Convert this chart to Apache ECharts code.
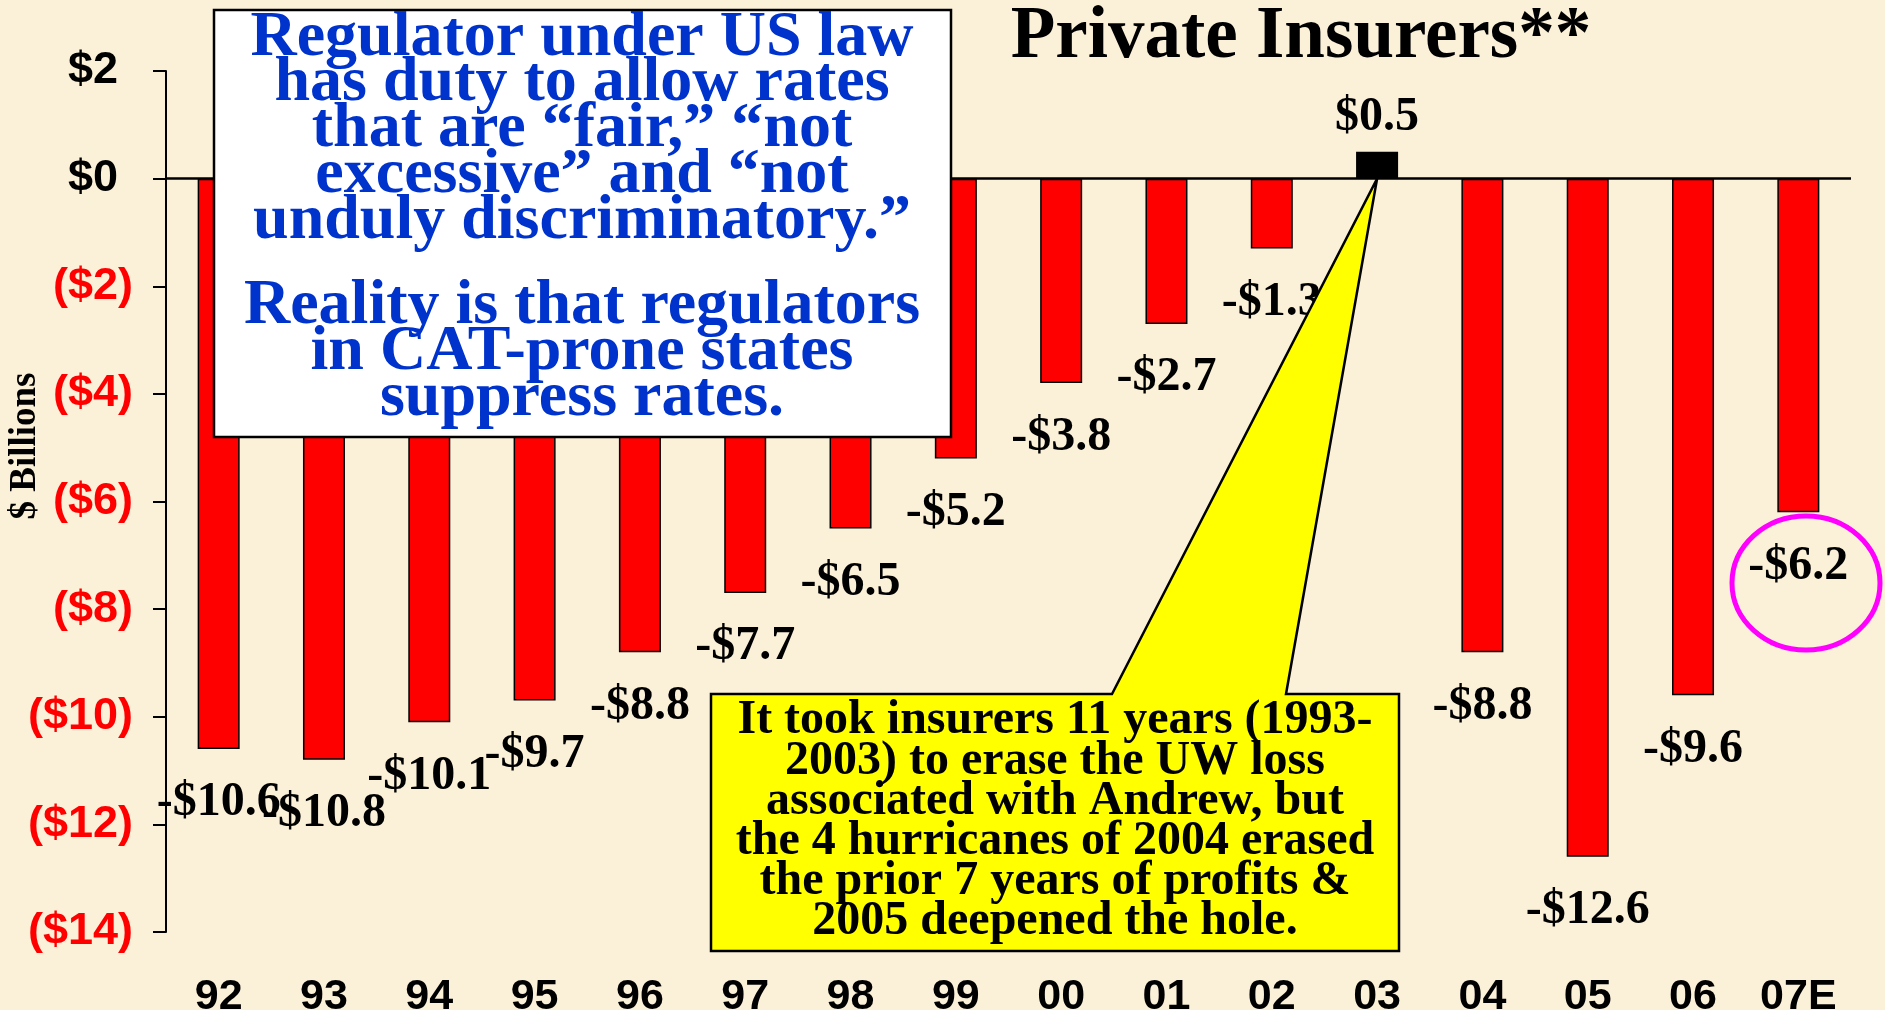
<!DOCTYPE html>
<html>
<head>
<meta charset="utf-8">
<script src="https://cdn.jsdelivr.net/npm/echarts@6.0.0/dist/echarts.min.js"></script>
<style>
  html, body { margin: 0; padding: 0; background: #FBF0D8; }
  #main { width: 1885px; height: 1010px; }
</style>
</head>
<body>
<div id="main"></div>
<script>
// years (07E = estimate)
var categories = ['92', '93', '94', '95', '96', '97', '98', '99', '00', '01', '02', '03', '04', '05', '06', '07E'];
// underwriting result, $ billions
var values = [-10.6, -10.8, -10.1, -9.7, -8.8, -7.7, -6.5, -5.2, -3.8, -2.7, -1.3, 0.5, -8.8, -12.6, -9.6, -6.2];
var yMin = -14, yMax = 2, yStep = 2;

var titleText = 'Private Insurers**';
var blueLines1 = ['Regulator under US law', 'has duty to allow rates', 'that are \u201cfair,\u201d \u201cnot', 'excessive\u201d and \u201cnot', 'unduly discriminatory.\u201d'];
var blueLines2 = ['Reality is that regulators', 'in CAT-prone states', 'suppress rates.'];
var yellowLines = ['It took insurers 11 years (1993-', '2003) to erase the UW loss', 'associated with Andrew, but', 'the 4 hurricanes of 2004 erased', 'the prior 7 years of profits &', '2005 deepened the hole.'];

var serif = '"Liberation Serif", "Times New Roman", serif';
var sans = '"Liberation Sans", Arial, sans-serif';

var chart = echarts.init(document.getElementById('main'));

function moneyLabel(v) {
    if (v < 0) return '-$' + Math.abs(v).toFixed(1);
    return '$' + v.toFixed(1);
}

// bars: red for losses, black for the one profit year
var barData = values.map(function (v) {
    return {
        value: v,
        itemStyle: { color: v >= 0 ? '#000000' : '#FF0000' },
        label: { position: v >= 0 ? 'top' : 'bottom', distance: v >= 0 ? 10 : 30 }
    };
});

// text lines of an annotation box, one element per line
function textLines(lines, cx, firstY, step, size, color) {
    return lines.map(function (t, i) {
        return {
            type: 'text',
            z: 102,
            style: {
                text: t,
                x: cx,
                y: firstY + i * step,
                fill: color,
                font: 'bold ' + size + 'px ' + serif,
                align: 'center',
                verticalAlign: 'middle'
            }
        };
    });
}

var option = {
    backgroundColor: '#FBF0D8',
    animation: false,
    grid: {
        left: 166,
        right: 34,
        top: 71,
        bottom: 78,
        outerBoundsMode: 'none'
    },
    xAxis: {
        type: 'category',
        data: categories,
        axisLine: { show: false, onZero: false },
        axisTick: { show: false },
        axisLabel: {
            margin: 44,
            color: '#000',
            fontFamily: sans,
            fontWeight: 'bold',
            fontSize: 43
        }
    },
    yAxis: {
        type: 'value',
        min: yMin,
        max: yMax,
        interval: yStep,
        splitLine: { show: false },
        axisLine: { show: true, lineStyle: { color: '#000', width: 2 } },
        axisTick: { show: true, length: 13, lineStyle: { color: '#000', width: 2 } },
        axisLabel: {
            margin: 33,
            formatter: function (v) {
                if (v < 0) return '{neg|($' + (-v) + ')}';
                return '{pos|$' + v + '}';
            },
            rich: {
                pos: { color: '#000', fontFamily: sans, fontWeight: 'bold', fontSize: 45, padding: [0, 15, 0, 0] },
                neg: { color: '#FF0000', fontFamily: sans, fontWeight: 'bold', fontSize: 45 }
            }
        }
    },
    series: [{
        name: 'UW result',
        type: 'bar',
        barWidth: 42,
        data: barData,
        itemStyle: { borderColor: '#000', borderWidth: 1.5 },
        label: {
            show: true,
            color: '#000',
            fontFamily: serif,
            fontWeight: 'bold',
            fontSize: 48,
            formatter: function (p) { return moneyLabel(p.value); }
        },
        markLine: {
            silent: true,
            symbol: 'none',
            label: { show: false },
            lineStyle: { color: '#000', width: 2.5, type: 'solid' },
            data: [{ yAxis: 0 }]
        }
    }]
};
chart.setOption(option);

// callout pointer tip sits on the zero line at the 03 bar
var tip = chart.convertToPixel({ xAxisIndex: 0, yAxisIndex: 0 }, [categories.indexOf('03'), 0]);

var graphics = [
    {
        type: 'text',
        z: 102,
        style: {
            text: titleText, x: 1301, y: 38, fill: '#000',
            font: 'bold 73px ' + serif, align: 'center', verticalAlign: 'middle'
        }
    },
    {
        type: 'text',
        z: 102,
        rotation: Math.PI / 2,
        x: 25,
        y: 446,
        style: {
            text: '$ Billions', x: 0, y: 0, fill: '#000',
            font: 'bold 37px ' + serif, align: 'center', verticalAlign: 'middle'
        }
    },
    {
        type: 'rect',
        z: 100,
        shape: { x: 214, y: 10, width: 737, height: 427 },
        style: { fill: '#FFFFFF', stroke: '#000', lineWidth: 2.5 }
    },
    {
        type: 'polygon',
        z: 100,
        shape: {
            points: [[711, 694], [1112, 694], [tip[0], tip[1]], [1286, 694], [1399, 694], [1399, 951], [711, 951]]
        },
        style: { fill: '#FFFF00', stroke: '#000', lineWidth: 2.5 }
    },
    {
        type: 'ellipse',
        z: 100,
        shape: { cx: 1806, cy: 583, rx: 74, ry: 67 },
        style: { fill: 'none', stroke: '#FF00FF', lineWidth: 5 }
    }
];
graphics = graphics
    .concat(textLines(blueLines1, 582, 38, 45.8, 64, '#0033CC'))
    .concat(textLines(blueLines2, 582, 306, 46, 64, '#0033CC'))
    .concat(textLines(yellowLines, 1055, 721, 40.2, 48, '#000'));

chart.setOption({ graphic: graphics });
</script>
</body>
</html>
